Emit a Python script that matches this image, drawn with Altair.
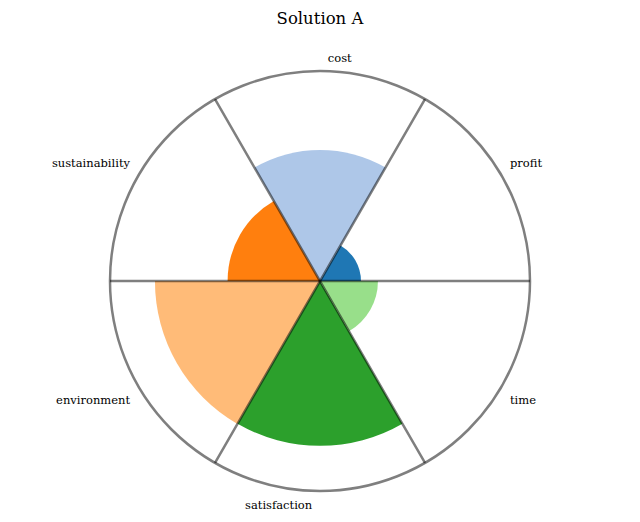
import math
import altair as alt
import pandas as pd

# ---- data ----
categories = ["profit", "cost", "sustainability", "environment", "satisfaction", "time"]
values = [19.5, 62.4, 44.0, 78.6, 78.5, 27.6]
colors = ["#1f77b4", "#aec7e8", "#ff7f0e", "#ffbb78", "#2ca02c", "#98df8a"]
R_MAX = 100.0

# ---- styling / layout helpers ----
label_nudge = [2, -2, -2, 2, -2, -2]   # small angular nudge of tick labels (deg)
LABEL_R = R_MAX * 224 / 210
FONT = "DejaVu Serif"
GRID_W = 2.5

n = len(categories)
span = 360.0 / n
rows = []
for i, (c, v, nud) in enumerate(zip(categories, values, label_nudge)):
    start = i * span           # math angle (ccw from east)
    end = start + span
    mid = start + span / 2 + nud
    rows.append(dict(
        category=c, value=v,
        theta=90 - end, theta2=90 - start,          # vega angle (cw from north)
        grid_theta=90 - start,
        label_theta=90 - mid,
        label_r=LABEL_R,
        outer=R_MAX,
        side="right" if math.cos(math.radians(mid)) > 0 else "left",
    ))
df = pd.DataFrame(rows)
circle_df = pd.DataFrame({"t0": [0.0], "t1": [360.0], "r": [R_MAX]})

theta_scale = alt.Scale(domain=[0, 360], range=[0, 2 * math.pi], nice=False, zero=False)
r_scale = alt.Scale(type="linear", domain=[0, R_MAX], range=[0, 210], nice=False, zero=True)

base = alt.Chart(df)

wedges = base.mark_arc().encode(
    theta=alt.Theta("theta:Q", scale=theta_scale, stack=False),
    theta2="theta2:Q",
    radius=alt.Radius("value:Q", scale=r_scale),
    color=alt.Color("category:N", scale=alt.Scale(domain=categories, range=colors), legend=None),
)

radial = base.mark_arc(filled=False, stroke="black", strokeOpacity=0.5, strokeWidth=GRID_W).encode(
    theta=alt.Theta("grid_theta:Q", stack=False),
    theta2="grid_theta:Q",
    radius=alt.Radius("outer:Q"),
)

circle = alt.Chart(circle_df).mark_arc(filled=False, stroke="black", strokeOpacity=0.5, strokeWidth=GRID_W).encode(
    theta=alt.Theta("t0:Q", stack=False),
    theta2="t1:Q",
    radius=alt.Radius("r:Q"),
)

def label_layer(side, align):
    return base.transform_filter(f"datum.side == '{side}'").mark_text(
        align=align, baseline="middle", font=FONT, fontSize=11.5, color="black", dy=1.5
    ).encode(
        theta=alt.Theta("label_theta:Q", stack=False),
        radius=alt.Radius("label_r:Q"),
        text="category:N",
    )

chart = alt.layer(
    wedges, radial, circle, label_layer("right", "left"), label_layer("left", "right")
).properties(
    width=624,
    height=466,
    padding={"left": 0, "top": 40, "right": 0, "bottom": 0},
    autosize=alt.AutoSizeParams(type="none"),
    title=alt.TitleParams("Solution A", font=FONT, fontSize=16.5, fontWeight="normal",
                          anchor="middle", offset=21, color="black"),
).configure_view(stroke=None)

chart.save("out.html", embed_options={"renderer": "svg", "actions": False})
